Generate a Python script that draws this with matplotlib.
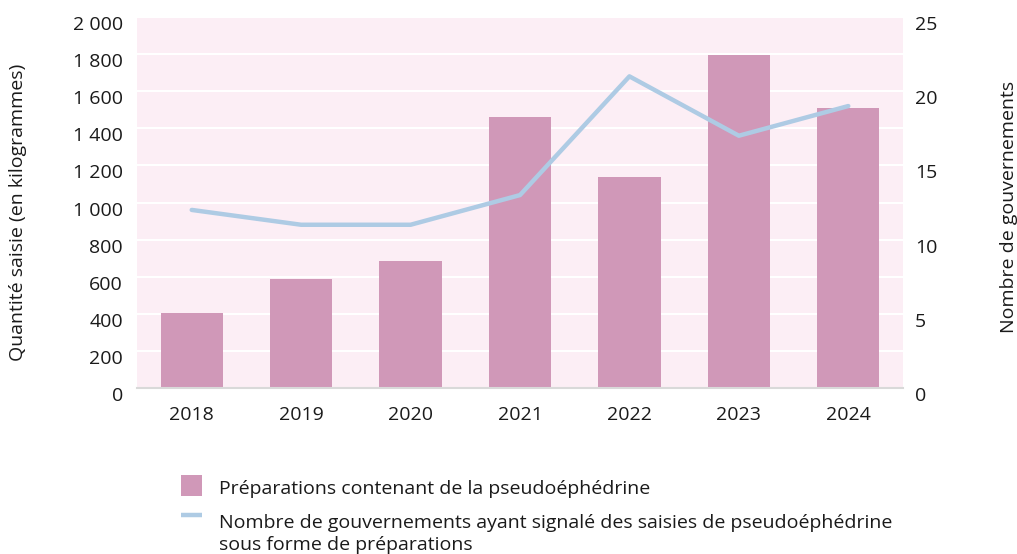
import matplotlib
matplotlib.use("Agg")
import matplotlib.pyplot as plt
from matplotlib.ticker import FuncFormatter
from matplotlib.patches import Rectangle
from matplotlib.lines import Line2D
from matplotlib.transforms import ScaledTranslation

years = ["2018", "2019", "2020", "2021", "2022", "2023", "2024"]
quantities = [405, 590, 685, 1460, 1137, 1795, 1510]
governments = [12, 11, 11, 13, 21, 17, 19]
left_ticks = [0, 200, 400, 600, 800, 1000, 1200, 1400, 1600, 1800, 2000]
right_ticks = [0, 5, 10, 15, 20, 25]

bar_label = "Préparations contenant de la pseudoéphédrine"
line_label = "Nombre de gouvernements ayant signalé des saisies de pseudoéphédrine\nsous forme de préparations"
left_ylabel = "Quantité saisie (en kilogrammes)"
right_ylabel = "Nombre de gouvernements"

plt.rcParams['font.family'] = ['Open Sans', 'DejaVu Sans']

bar_color = "#D098B8"
line_color = "#AECBE4"
bg_color = "#FCEEF5"
text_color = "#1a1a1a"
FS = 14

W, H = 1017, 554
fig = plt.figure(figsize=(W/100, H/100), dpi=100)
ax = fig.add_axes([137/W, 1-388/H, (903-137)/W, (388-17)/H])
ax.set_facecolor(bg_color)
x = list(range(len(years)))
ax.bar(x, quantities, width=0.57, color=bar_color, zorder=3)
ax.set_xlim(-0.5, len(years)-0.5)
ax.set_ylim(0, 2000)
ax.set_yticks(left_ticks)
ax.yaxis.set_major_formatter(FuncFormatter(lambda v, p: f"{int(v):,}".replace(",", " ")))
ax.grid(axis='y', color='white', linewidth=1.5, zorder=1)
ax.set_axisbelow(True)
for s in ['top', 'right', 'left']:
    ax.spines[s].set_visible(False)
ax.spines['bottom'].set_color('#D9D9D9')
ax.spines['bottom'].set_linewidth(1.5)
ax.spines['bottom'].set_zorder(4)
ax.set_xticks(x)
ax.set_xticklabels(years)
ax.tick_params(axis='both', length=0, labelsize=FS, colors=text_color)
ax.tick_params(axis='x', pad=13)
ax.tick_params(axis='y', pad=10)

ax2 = ax.twinx()
ax2.plot(x, governments, color=line_color, linewidth=3.2, solid_capstyle='round', zorder=5)
ax2.set_ylim(0, 25)
ax2.set_yticks(right_ticks)
for s in ax2.spines.values():
    s.set_visible(False)
ax2.tick_params(axis='y', length=0, labelsize=FS, colors=text_color, pad=8.5)

shift = ScaledTranslation(0, -0.06, fig.dpi_scale_trans)
for lab in ax.get_yticklabels() + ax2.get_yticklabels():
    lab.set_transform(lab.get_transform() + shift)

fig.text(18/W, 1-212/H, left_ylabel, rotation=90, ha='center', va='center',
         fontsize=FS, color=text_color)
fig.text(1009/W, 1-207/H, right_ylabel, rotation=90, ha='center', va='center',
         fontsize=FS, color=text_color)

# legend
fig.patches.append(Rectangle((181/W, 1-496/H), 21/W, 21/H, transform=fig.transFigure,
                             facecolor=bar_color, edgecolor='none'))
fig.lines.append(Line2D([181/W, 202/W], [1-515/H, 1-515/H], transform=fig.transFigure,
                        color=line_color, linewidth=3.2, solid_capstyle='butt'))
fig.text(219/W, 1-494/H, bar_label, ha='left', va='baseline', fontsize=FS, color=text_color)
fig.text(219/W, 1-550/H, line_label, ha='left', va='baseline', fontsize=FS,
         color=text_color, linespacing=1.3)

fig.savefig("out.png", dpi=100)
